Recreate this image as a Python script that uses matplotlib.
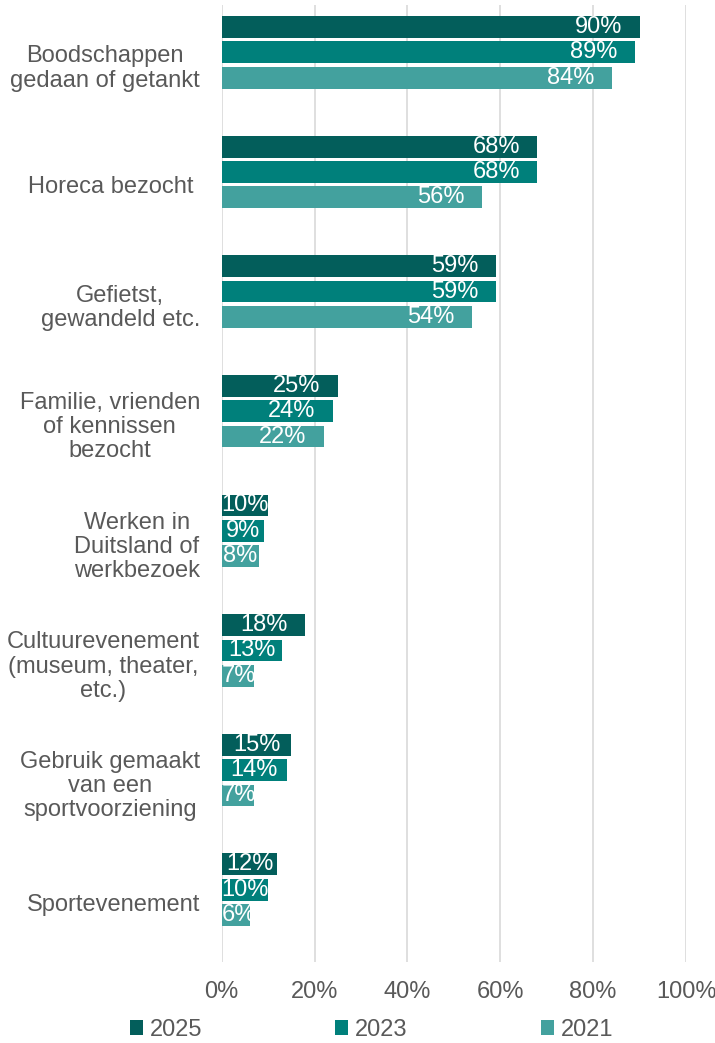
import matplotlib
matplotlib.use('Agg')
import matplotlib.pyplot as plt
from matplotlib.patches import Patch
from matplotlib.transforms import Bbox, TransformedBbox

# Gegevens (aflezen uit de grafiek)
categorieen = [
    'Boodschappen\ngedaan of getankt',
    'Horeca bezocht ',
    'Gefietst,\ngewandeld etc.',
    'Familie, vrienden\nof kennissen\nbezocht',
    'Werken in\nDuitsland of\nwerkbezoek',
    'Cultuurevenement\n(museum, theater,\netc.)',
    'Gebruik gemaakt\nvan een\nsportvoorziening',
    'Sportevenement',
]
jaren = ['2025', '2023', '2021']
waarden_2025 = [90, 68, 59, 25, 10, 18, 15, 12]
waarden_2023 = [89, 68, 59, 24, 9, 13, 14, 10]
waarden_2021 = [84, 56, 54, 22, 8, 7, 7, 6]
x_ticks = [0, 20, 40, 60, 80, 100]

kleuren = ['#035E5B', '#00807B', '#43A19E']
tekstkleur = '#595959'

plt.rcParams['font.family'] = ['Liberation Sans', 'DejaVu Sans']
plt.rcParams['font.size'] = 17

fig = plt.figure(figsize=(7.15, 10.43), dpi=100)
ax = fig.add_axes([0.3101, 0.0777, 0.6494, 0.9175])

reeksen = [waarden_2025, waarden_2023, waarden_2021]
stap = 0.212
hoogte = 0.182
verschuiving = -0.104

labels = []
for k, (jaar, waarden, kleur) in enumerate(zip(jaren, reeksen, kleuren)):
    posities = [i + verschuiving + (k - 1) * stap for i in range(len(categorieen))]
    ax.barh(posities, waarden, height=hoogte, color=kleur, label=jaar, zorder=3)
    for y, v in zip(posities, waarden):
        t = ax.text(v, y, f'{v}%', ha='right', va='center', color='white',
                    fontsize=17, zorder=4)
        labels.append((t, v, y))

ax.set_xlim(0, 100)
ax.set_ylim(len(categorieen) - 0.5, -0.5)
ax.set_xticks(x_ticks)
ax.set_xticklabels([f'{t}%' for t in x_ticks])
ax.set_yticks(range(len(categorieen)))
ax.set_yticklabels(categorieen)
for lbl in ax.get_yticklabels():
    lbl.set_multialignment('center')
    lbl.set_linespacing(1.13)

ax.tick_params(axis='y', length=0, pad=15.6, colors=tekstkleur, labelsize=17)
ax.tick_params(axis='x', length=0, pad=14, colors=tekstkleur, labelsize=17)
ax.grid(axis='x', color='#D9D9D9', linewidth=1.2, zorder=0)
for s in ax.spines.values():
    s.set_visible(False)

# labels binnen de balken plaatsen
fig.canvas.draw()
renderer = fig.canvas.get_renderer()
px_per_eenheid = ax.transData.transform((1, 0))[0] - ax.transData.transform((0, 0))[0]
for t, v, y in labels:
    w = t.get_window_extent(renderer).width / px_per_eenheid
    marge = min(17.5 / px_per_eenheid, max(0, (v - w) / 2))
    t.set_x(max(v - marge, w))
    clip = TransformedBbox(Bbox([[0, y - hoogte / 2], [v, y + hoogte / 2]]), ax.transData)
    t.set_clip_box(clip)
    t.set_clip_on(True)

handles = [Patch(facecolor=c, label=j) for j, c in zip(jaren, kleuren)]
leg = fig.legend(handles=handles, loc='center', bbox_to_anchor=(0.5196, 0.0125),
                 ncol=3, frameon=False, fontsize=17, handlelength=0.55,
                 handleheight=0.55, handletextpad=0.3, columnspacing=5.63)
for tekst in leg.get_texts():
    tekst.set_color(tekstkleur)

fig.savefig('out.png', dpi=100)
